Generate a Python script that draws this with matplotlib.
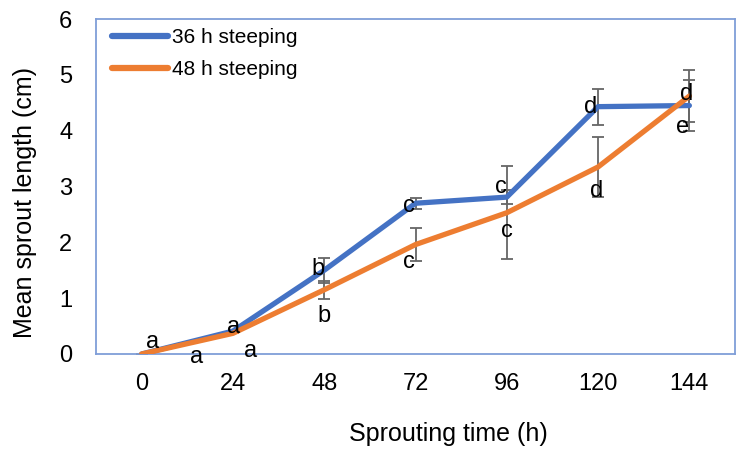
import matplotlib
matplotlib.use("Agg")
import matplotlib.pyplot as plt
import numpy as np

# Sprouting time categories (h)
hours = ["0", "24", "48", "72", "96", "120", "144"]

# Mean sprout length (cm) and error (cm) for each steeping time
len_36h = [0.00, 0.41, 1.50, 2.70, 2.81, 4.43, 4.45]
err_36h = [0.00, 0.00, 0.22, 0.10, 0.13, 0.32, 0.46]
len_48h = [0.00, 0.37, 1.15, 1.96, 2.53, 3.35, 4.62]
err_48h = [0.00, 0.00, 0.16, 0.30, 0.83, 0.54, 0.47]

# Significance letters
letters_36h = ["a", "a", "b", "c", "c", "d", "d"]
letters_48h = ["a", "a", "b", "c", "c", "d", "e"]

# Letter anchor positions (category index, baseline in cm)
pos_36h = [(0.12, 0.11), (1.01, 0.38), (1.93, 1.42), (2.93, 2.54),
           (3.94, 2.89), (4.92, 4.32), (5.97, 4.55)]
pos_48h = [(0.60, -0.16), (1.19, -0.05), (2.00, 0.57), (2.93, 1.54),
           (4.00, 2.10), (4.98, 2.81), (5.93, 3.96)]

plt.rcParams["font.family"] = ["Liberation Sans", "DejaVu Sans"]

BLUE = "#4472C4"
ORANGE = "#ED7D31"
GREY = "#666666"
FRAME = "#7F9ED8"

W, H = 738, 450
fig = plt.figure(figsize=(W / 100, H / 100), dpi=100)
ax = fig.add_axes([96 / W, 1 - 354 / H, (735 - 96) / W, (354 - 19) / H])

x = np.arange(len(hours))

for vals, errs in ((len_36h, err_36h), (len_48h, err_48h)):
    ax.errorbar(x, vals, yerr=errs, fmt="none", ecolor=GREY, elinewidth=1.3,
                capsize=4.5, capthick=1.3, zorder=2)

ax.plot(x, len_36h, color=BLUE, lw=3.8, solid_capstyle="round",
        solid_joinstyle="round", label="36 h steeping", zorder=3)
ax.plot(x, len_48h, color=ORANGE, lw=3.8, solid_capstyle="round",
        solid_joinstyle="round", label="48 h steeping", zorder=4)

for labels, positions in ((letters_36h, pos_36h), (letters_48h, pos_48h)):
    for lab, (px, py) in zip(labels, positions):
        ax.text(px, py, lab, ha="center", va="baseline", fontsize=17,
                color="black", zorder=5)

ax.set_xlim(-0.5, len(hours) - 0.5)
ax.set_ylim(0, 6)
ax.set_xticks(x)
ax.set_xticklabels(hours)
ax.set_yticks(range(0, 7))
ax.tick_params(axis="both", length=0, labelsize=17)
ax.tick_params(axis="x", pad=14)
ax.tick_params(axis="y", pad=17)

for sp in ax.spines.values():
    sp.set_color(FRAME)
    sp.set_linewidth(1.3)

leg = ax.legend(loc="upper left", bbox_to_anchor=(0.01, 1.0), frameon=False,
                fontsize=15, handlelength=2.7, handletextpad=0.2,
                labelspacing=0.6, borderaxespad=0.05)
for line in leg.get_lines():
    line.set_linewidth(4.5)
    line.set_solid_capstyle("round")

fig.text(448 / W, 1 - 434 / H, "Sprouting time (h)", ha="center",
         va="center", fontsize=18)
fig.text(25 / W, 1 - 203 / H, "Mean sprout length (cm)", ha="center",
         va="center", rotation=90, fontsize=18)

fig.savefig("out.png", dpi=100)
